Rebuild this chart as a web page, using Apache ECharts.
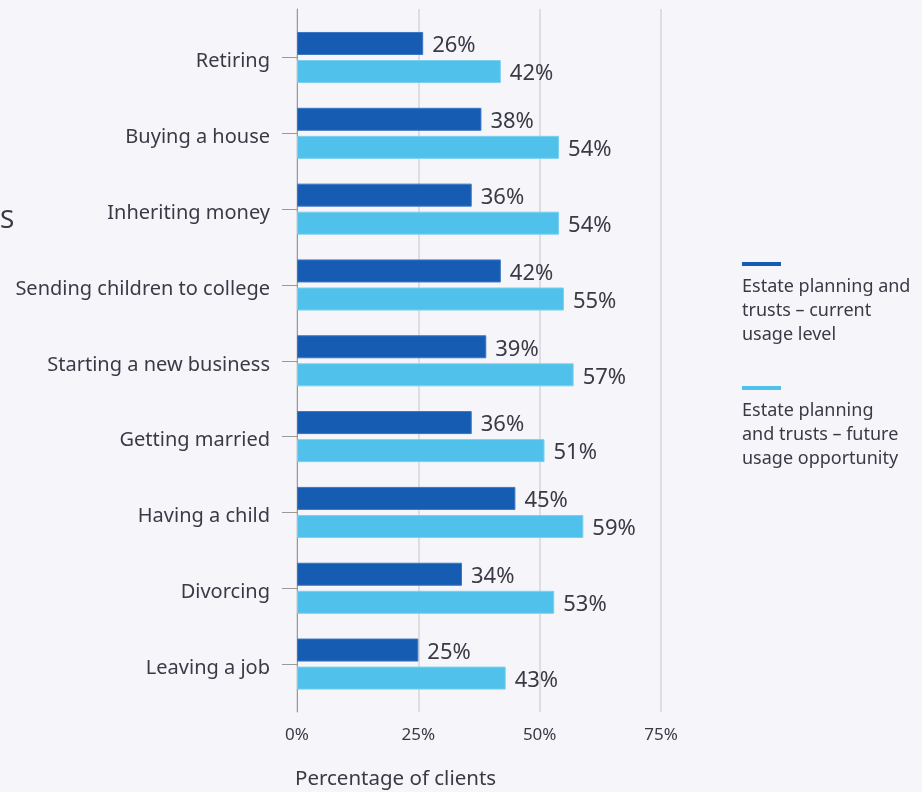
<!DOCTYPE html>
<html>
<head>
<meta charset="utf-8">
<script src="https://cdn.jsdelivr.net/npm/echarts@6/dist/echarts.min.js"></script>
<style>
html,body{margin:0;padding:0;background:#f5f5fa;}
#c{width:922px;height:792px;}
</style>
</head>
<body>
<div id="c"></div>
<script>
var categories = ['Retiring','Buying a house','Inheriting money','Sending children to college','Starting a new business','Getting married','Having a child','Divorcing','Leaving a job'];
var currentUsage = [26,38,36,42,39,36,45,34,25];
var futureUsage = [42,54,54,55,57,51,59,53,43];
var seriesNames = ['Estate planning and\ntrusts \u2013 current\nusage level','Estate planning\nand trusts \u2013 future\nusage opportunity'];
var xTicks = [0,25,50,75];
var axisTitle = 'Percentage of clients';
var sideText = 'S';

var font = 'Noto Sans';
var textColor = '#3a3a46';
var chart = echarts.init(document.getElementById('c'));
var valLabel = {show:true, position:'right', distance:9,
  formatter: function(p){ return '{v|' + p.value + '%}'; },
  rich:{v:{fontSize:22, color:textColor, fontFamily:font, padding:[5,0,0,0]}}};
var option = {
  backgroundColor: '#f5f5fa',
  textStyle: {fontFamily: font},
  grid: [
    {left: 297, right: 261, top: 19.6, bottom: 90},
    {left: 297, right: 261, top: 9, bottom: 80}
  ],
  xAxis: [
    {gridIndex: 0, type: 'value', min: xTicks[0], max: xTicks[xTicks.length-1], interval: 25,
     axisLine:{show:false}, axisTick:{show:false}, axisLabel:{show:false}, splitLine:{show:false}},
    {gridIndex: 1, type: 'value', min: xTicks[0], max: xTicks[xTicks.length-1], interval: 25,
     axisLine:{show:false}, axisTick:{show:false},
     axisLabel:{show:true, margin:15, fontSize:17, color:textColor, fontFamily:font, formatter:'{value}%'},
     splitLine:{show:true, lineStyle:{color:'#d4d4da', width:1.5}},
     name: axisTitle, nameLocation:'start', nameGap: 0,
     nameTextStyle:{fontSize:20.5, color:textColor, fontFamily:font, align:'left', verticalAlign:'top', padding:[57,0,0,-2]}}
  ],
  yAxis: [
    {gridIndex: 0, type: 'category', data: categories, inverse: true,
     axisLine:{show:false},
     axisTick:{show:true, alignWithLabel:true, length:15, lineStyle:{color:'#999'}},
     axisLabel:{margin:27, formatter: function(v){ return '{c|' + v + '}'; },
       rich:{c:{fontSize:20, color:textColor, fontFamily:font, padding:[8,0,0,0]}}}},
    {gridIndex: 1, type: 'value', min:0, max:1,
     axisLine:{show:true, lineStyle:{color:'#999', width:1}}, axisTick:{show:false}, axisLabel:{show:false}, splitLine:{show:false}}
  ],
  series: [
    {name: seriesNames[0], type:'bar', xAxisIndex:0, yAxisIndex:0, data: currentUsage,
     barWidth: 23, barGap: '22%',
     itemStyle:{color:'#165cb3', borderColor:'#3a76c4', borderWidth:1},
     label: valLabel},
    {name: seriesNames[1], type:'bar', xAxisIndex:0, yAxisIndex:0, data: futureUsage,
     barWidth: 23, barGap: '22%',
     itemStyle:{color:'#4fc1eb', borderColor:'#7ad0f0', borderWidth:1},
     label: valLabel}
  ],
  graphic: [
    {type:'text', left: 0, top: 208, style:{text: sideText, fontSize:26, fill:textColor, fontFamily:font}},
    {type:'rect', left: 742, top: 262, shape:{width:39, height:4}, style:{fill:'#165cb3'}},
    {type:'text', left: 742, top: 275, style:{text: seriesNames[0], fontSize:18, lineHeight:24, fill:textColor, fontFamily:font}},
    {type:'rect', left: 742, top: 386, shape:{width:39, height:4}, style:{fill:'#4fc1eb'}},
    {type:'text', left: 742, top: 399, style:{text: seriesNames[1], fontSize:18, lineHeight:24, fill:textColor, fontFamily:font}}
  ]
};
chart.setOption(option);
</script>
</body>
</html>
